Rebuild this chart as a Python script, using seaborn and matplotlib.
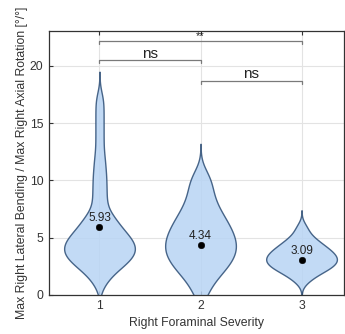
import matplotlib
matplotlib.use("Agg")
import matplotlib.pyplot as plt
import numpy as np
import pandas as pd
import seaborn as sns

# ratios (samples picked to give the same outlines)
sev1 = [0.99, 1.66, 2.03, 2.3, 2.52, 2.71, 2.88, 3.04, 3.19, 3.32, 3.46, 3.58,
        3.71, 3.84, 3.96, 4.09, 4.22, 4.34, 4.47, 4.61, 4.74, 4.89, 5.04, 5.19,
        5.36, 5.54, 5.74, 5.97, 6.24, 6.56, 6.8, 7.02, 7.85, 8.5, 9.2, 9.9,
        10.6, 11.4, 12.3, 13.5, 14.7, 15.9, 17.1]
sev2 = [0.05, 1.01, 1.56, 1.96, 2.3, 2.59, 2.86, 3.1, 3.34, 3.57, 3.79, 4.01,
        4.22, 4.44, 4.66, 4.89, 5.12, 5.35, 5.6, 5.86, 6.13, 6.42, 6.73, 7.07,
        7.47, 7.92, 8.49, 9.1, 9.8, 10.5]
sev3 = [1.24, 1.7, 1.96, 2.15, 2.31, 2.46, 2.59, 2.72, 2.84, 2.96, 3.08, 3.2,
        3.32, 3.44, 3.57, 3.71, 3.85, 4.01, 4.17, 4.36, 4.58, 4.85, 5.22, 5.9]
groups = ["1", "2", "3"]
means = [5.93, 4.34, 3.09]
mean_labels = ["5.93", "4.34", "3.09"]
bandwidths = [0.8, 0.9, 0.5]

# significance brackets: (left group, right group, height, label)
brackets = [(0, 2, 22.2, "**"), (0, 1, 20.5, "ns"), (1, 2, 18.7, "ns")]

sns.set_theme(style="whitegrid")
plt.rcParams["font.family"] = ["Liberation Sans", "DejaVu Sans"]

fig = plt.figure(figsize=(3.45, 3.34), dpi=100)
ax = fig.add_axes([0.142, 0.117, 0.855, 0.79])

for g, vals, bw in zip(groups, [sev1, sev2, sev3], bandwidths):
    d = pd.DataFrame({"sev": [g] * len(vals), "val": vals})
    sns.violinplot(data=d, x="sev", y="val", order=groups, cut=3, inner=None,
                   density_norm="width", width=0.7, color="#b8d4f4",
                   saturation=1, linecolor="#2c4d75", linewidth=1.0,
                   bw_method=bw / np.std(vals, ddof=1), gridsize=300, ax=ax)
for c in ax.collections:
    c.set_alpha(0.85)
    c.set_edgecolor("#2c4d75")

sns.scatterplot(x=groups, y=means, color="black", s=22, zorder=5, ax=ax,
                edgecolor="black")
for i, m in enumerate(means):
    ax.text(i, m + 0.25, mean_labels[i], ha="center", va="bottom",
            fontsize=8.5, color="#222222", zorder=6)

for a, b, h, lab in brackets:
    ax.plot([a, a, b, b], [h - 0.25, h, h, h - 0.25], color="#7a7a7a",
            lw=0.9, zorder=4)
    if lab == "**":
        ax.text((a + b) / 2, h - 0.05, lab, ha="center", va="bottom",
                fontsize=8, color="#222222")
    else:
        ax.text((a + b) / 2, h - 0.05, lab, ha="center", va="bottom",
                fontsize=11, color="#222222")

ax.set_ylim(0, 23.05)
ax.set_xlim(-0.5, 2.42)
ax.set_yticks([0, 5, 10, 15, 20])
ax.grid(True, color="#e3e3e3", lw=0.8)
ax.set_axisbelow(True)
for s in ax.spines.values():
    s.set_visible(True)
    s.set_color("#333333")
    s.set_linewidth(0.9)
ax.tick_params(axis="both", labelsize=8.8, colors="#333333", pad=4,
               direction="in", length=3, width=0.8)
ax.tick_params(axis="x", top=True, bottom=True)
ax.tick_params(axis="y", left=True)
ax.set_xlabel("Right Foraminal Severity", fontsize=8.8, color="#333333",
              labelpad=3)
ax.set_ylabel("Max Right Lateral Bending / Max Right Axial Rotation [°/°]",
              fontsize=8.8, color="#333333", labelpad=1)

fig.savefig("out.png", dpi=100)
